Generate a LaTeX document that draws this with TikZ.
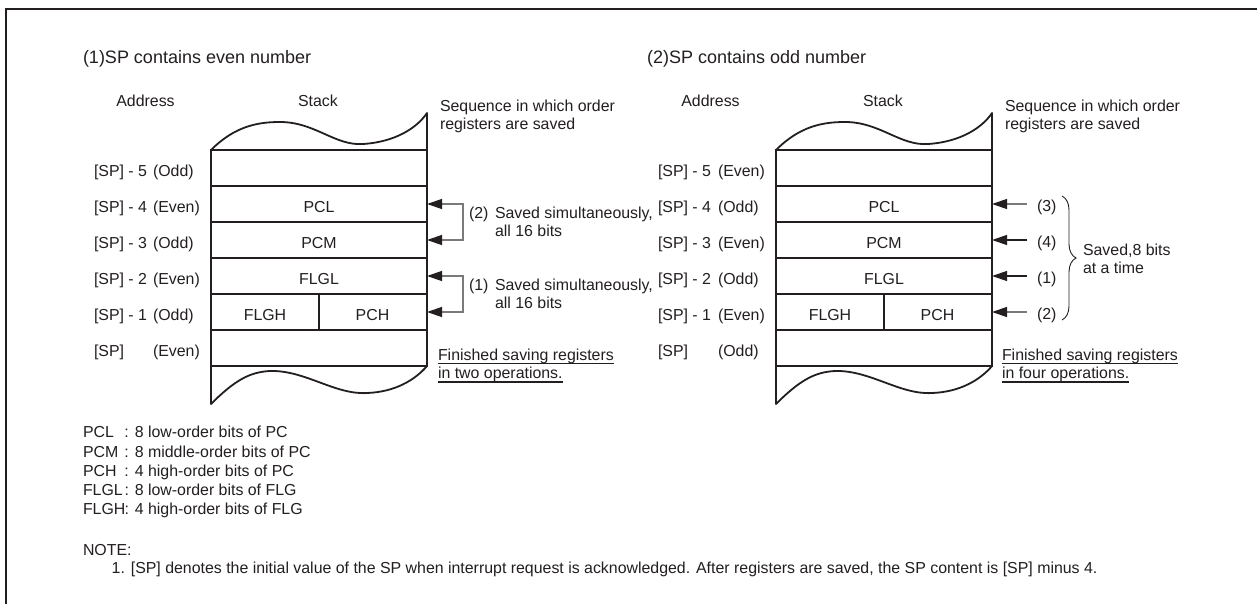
\documentclass[tikz,border=0pt]{standalone}
\usepackage{fontspec}
\setmainfont{Liberation Sans}
\usetikzlibrary{arrows.meta,decorations.pathreplacing,calc}
\definecolor{ink}{HTML}{231F20}
\definecolor{gline}{HTML}{7A7A7A}
\newcommand\mystack[1]{%
  \node[cell] (#1r5) at (319,168) {};
  \node[cell] (#1r4) at (319,204) {};
  \node[cell] (#1r3) at (319,240) {};
  \node[cell] (#1r2) at (319,276) {};
  \node[cell] (#1r1) at (319,312) {};
  \node[cell] (#1r0) at (319,348) {};
  \draw[stackline] (#1r1.north) -- (#1r1.south);
  \draw[stackline] (#1r5.north west) .. controls (235,126) and (258,122) .. (280,122)
     .. controls (315,122) and (335,146) .. (363,144)
     .. controls (395,142) and (417,128) .. (427,113) -- (#1r5.north east);
  \draw[stackline] (#1r0.south west) -- (211,404) .. controls (235,380) and (250,372) .. (270,371)
     .. controls (305,370) and (335,395) .. (367,393)
     .. controls (395,392) and (415,380) .. (#1r0.south east);
  \node[ctxt] (#1pcl) at (319,212) {PCL};
  \node[ctxt] (#1pcm) at (319,248) {PCM};
  \node[ctxt] (#1flgl) at (319,284) {FLGL};
  \node[ctxt] (#1flgh) at (265,320) {FLGH};
  \node[ctxt] (#1pch) at (372.5,320) {PCH};
  \node[ctxt] (#1addr) at (145.5,106.7) {Address};
  \node[ctxt] (#1stk) at (318,106.7) {Stack};
  \node[txt] (#1seqa) at (440,111.5) {Sequence in which order};
  \node[txt] (#1seqb) at (440,130) {registers are saved};
}
\begin{document}
\begin{tikzpicture}[x=1pt,y=-1pt,
  every node/.style={inner sep=0pt, outer sep=0pt, text=ink, font=\fontsize{15.9}{18.5}\selectfont},
  txt/.style={anchor=base west},
  ctxt/.style={anchor=base},
  cell/.style={draw=ink, line width=1.8pt, minimum width=216pt, minimum height=36pt},
  stackline/.style={draw=ink, line width=1.8pt, line join=round},
  conn/.style={draw=gline, line width=1.3pt},
  tipend/.style={-{Triangle[length=15pt,width=10pt,color=ink]}},
  tipboth/.style={{Triangle[length=15pt,width=10pt,color=ink]}-{Triangle[length=15pt,width=10pt,color=ink]}},
  uline/.style={draw=ink, line width=1.2pt}
]
\useasboundingbox (0,0) rectangle (1257,604);
\fill[white] (0,0) rectangle (1257,604);
\draw[ink, line width=2.5pt] (1257,9) -- (6,9) -- (6,604);

% ---------- left panel ----------
\node[txt, font=\fontsize{18}{20}\selectfont] (t1) at (83,63.3) {(1)SP contains even number};
\mystack{L}
\node[txt] (la5) at (94,176) {[SP] - 5}; \node[txt] (lb5) at (153,176) {(Odd)};
\node[txt] (la4) at (94,212) {[SP] - 4}; \node[txt] (lb4) at (153,212) {(Even)};
\node[txt] (la3) at (94,248) {[SP] - 3}; \node[txt] (lb3) at (153,248) {(Odd)};
\node[txt] (la2) at (94,284) {[SP] - 2}; \node[txt] (lb2) at (153,284) {(Even)};
\node[txt] (la1) at (94,320) {[SP] - 1}; \node[txt] (lb1) at (153,320) {(Odd)};
\node[txt] (la0) at (94,356) {[SP]};     \node[txt] (lb0) at (153,356) {(Even)};

\draw[conn, tipboth] (Lr4.east) -- ++(36,0) |- (Lr3.east);
\draw[conn, tipboth] (Lr2.east) -- ++(36,0) |- (Lr1.east);
\node[txt] (s2n) at (469,218.3) {(2)};
\node[txt] (s2a) at (495,218.3) {Saved simultaneously,};
\node[txt] (s2b) at (495,236.7) {all 16 bits};
\node[txt] (s1n) at (469,290.3) {(1)};
\node[txt] (s1a) at (495,290.3) {Saved simultaneously,};
\node[txt] (s1b) at (495,308.7) {all 16 bits};

\node[txt] (lf1) at (438,360) {Finished saving registers};
\node[txt] (lf2) at (438,378.5) {in two operations.};
\draw[uline] ([yshift=-3.5pt]lf1.base west) -- ([yshift=-3.5pt]lf1.base east);
\draw[uline] ([yshift=-3.5pt]lf2.base west) -- ([yshift=-3.5pt]lf2.base east);

% ---------- right panel ----------
\node[txt, font=\fontsize{18}{20}\selectfont] (t2) at (647,63.3) {(2)SP contains odd number};
\begin{scope}[xshift=565pt]
\mystack{R}
\end{scope}
\node[txt] (ra5) at (658,176) {[SP] - 5}; \node[txt] (rb5) at (718,176) {(Even)};
\node[txt] (ra4) at (658,212) {[SP] - 4}; \node[txt] (rb4) at (718,212) {(Odd)};
\node[txt] (ra3) at (658,248) {[SP] - 3}; \node[txt] (rb3) at (718,248) {(Even)};
\node[txt] (ra2) at (658,284) {[SP] - 2}; \node[txt] (rb2) at (718,284) {(Odd)};
\node[txt] (ra1) at (658,320) {[SP] - 1}; \node[txt] (rb1) at (718,320) {(Even)};
\node[txt] (ra0) at (658,356) {[SP]};     \node[txt] (rb0) at (718,356) {(Odd)};

\coordinate (c3) at (1027,204);
\coordinate (c4) at (1027,240);
\coordinate (c1) at (1027,276);
\coordinate (c2) at (1027,312);
\draw[conn, tipend] (c3) -- (Rr4.east);
\draw[conn, draw=ink, tipend] (c4) -- (Rr3.east);
\draw[conn, draw=ink, tipend] (c1) -- (Rr2.east);
\draw[conn, tipend] (c2) -- (Rr1.east);
\node[txt] (n3) at (1037,211.5) {(3)};
\node[txt] (n4) at (1037,247.5) {(4)};
\node[txt] (n1) at (1037,283.5) {(1)};
\node[txt] (n2) at (1037,319.5) {(2)};
\draw[ink, line width=0.9pt, decorate, decoration={brace, amplitude=14pt, aspect=0.5}] (1062,196) -- (1062,320);
\node[txt] (sv1) at (1083,255) {Saved,8 bits};
\node[txt] (sv2) at (1083,273.3) {at a time};

\node[txt] (rf1) at (1002,360) {Finished saving registers};
\node[txt] (rf2) at (1002,378.5) {in four operations.};
\draw[uline] ([yshift=-3.5pt]rf1.base west) -- ([yshift=-3.5pt]rf1.base east);
\draw[uline] ([yshift=-3.5pt]rf2.base west) -- ([yshift=-3.5pt]rf2.base east);

% ---------- legend ----------
\node[txt] (g1) at (83,437.7) {\makebox[41.5pt][l]{PCL}: 8 low-order bits of PC};
\node[txt] (g2) at (83,457) {\makebox[41.5pt][l]{PCM}: 8 middle-order bits of PC};
\node[txt] (g3) at (83,476.3) {\makebox[41.5pt][l]{PCH}: 4 high-order bits of PC};
\node[txt] (g4) at (83,495.6) {\makebox[41.5pt][l]{FLGL}: 8 low-order bits of FLG};
\node[txt] (g5) at (83,514.9) {\makebox[41.5pt][l]{FLGH}: 4 high-order bits of FLG};
\node[txt] (nt) at (83,555.3) {NOTE:};
\node[txt] (nt1) at (111.7,573.7) {1. [SP] denotes the initial value of the SP when interrupt request is acknowledged. After registers are saved, the SP content is [SP] minus 4.};
\end{tikzpicture}
\end{document}
